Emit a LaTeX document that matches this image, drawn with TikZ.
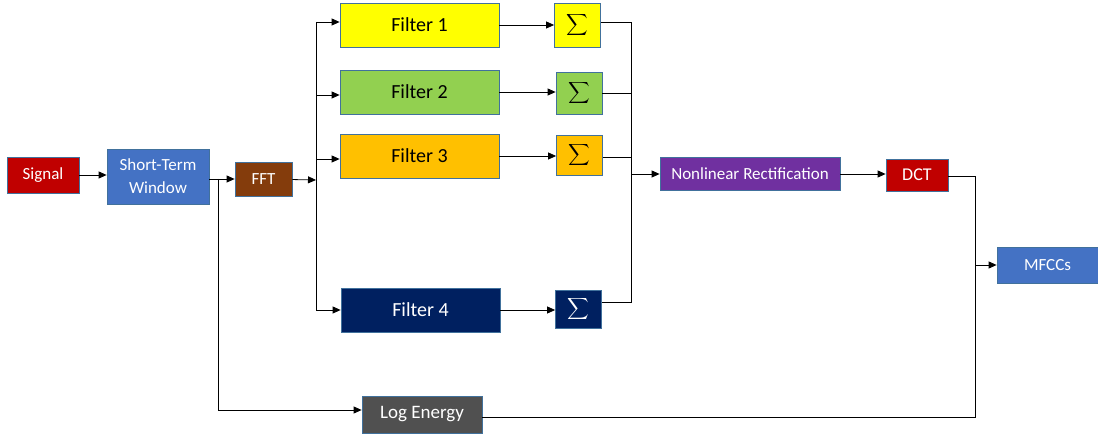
\documentclass[tikz,border=0pt]{standalone}
\usepackage{amsmath}
\usepackage{graphicx}
\usepackage{fontspec}
\setmainfont{Carlito}
\usetikzlibrary{arrows.meta}
\definecolor{bord}{HTML}{41719C}
\definecolor{cred}{HTML}{C00000}
\definecolor{cblue}{HTML}{4472C4}
\definecolor{cbrown}{HTML}{843C0C}
\definecolor{cyel}{HTML}{FFFF00}
\definecolor{cgreen}{HTML}{92D050}
\definecolor{corange}{HTML}{FFC000}
\definecolor{cnavy}{HTML}{002060}
\definecolor{cpurple}{HTML}{7030A0}
\definecolor{cgray}{HTML}{505050}
\newcommand{\bigsum}{\scalebox{1.5}{$\displaystyle\sum$}}
\tikzset{
  blk/.style={draw=bord, line width=0.8pt, inner sep=0pt, align=center, font=\fontsize{17}{20}\selectfont},
  flt/.style={blk, minimum width=159pt, minimum height=44pt, font=\fontsize{20}{24}\selectfont},
  sig/.style={blk, minimum width=46pt, minimum height=42pt, font=\normalsize},
  ar/.style={-{Triangle[length=8pt,width=7pt]}, line width=0.8pt},
  ln/.style={line width=0.8pt}
}
\begin{document}
\begin{tikzpicture}[x=1pt,y=-1pt]
\useasboundingbox (0,0) rectangle (1098,438);
\node[blk, fill=cred, text=white, minimum width=72pt, minimum height=36pt] (signal) at (43,175) {Signal};
\node[blk, fill=cblue, text=white, minimum width=102pt, minimum height=55pt, font=\fontsize{17}{23}\selectfont] (stw) at (158,176.5) {Short-Term\\Window};
\node[blk, fill=cbrown, text=white, minimum width=57pt, minimum height=34pt] (fft) at (263.5,179) {FFT};
\node[flt, fill=cyel] (f1) at (419.5,25) {Filter 1};
\node[flt, fill=cgreen] (f2) at (419.5,92) {Filter 2};
\node[flt, fill=corange] (f3) at (419.5,156) {Filter 3};
\node[flt, fill=cnavy, text=white] (f4) at (420.5,310) {Filter 4};
\node[sig, fill=cyel, minimum height=44pt] (s1) at (577.5,25) {\bigsum};
\node[sig, fill=cgreen] (s2) at (579,93) {\bigsum};
\node[sig, fill=corange, minimum height=40pt] (s3) at (579.5,155) {\bigsum};
\node[sig, fill=cnavy, text=white, minimum height=38pt] (s4) at (578.5,309) {\bigsum};
\node[blk, fill=cpurple, text=white, minimum width=180pt, minimum height=33pt] (nl) at (750,174) {Nonlinear Rectification};
\node[blk, fill=cred, text=white, minimum width=62pt, minimum height=32pt, font=\fontsize{18}{21}\selectfont] (dct) at (917,175) {DCT};
\node[blk, fill=cblue, text=white, minimum width=101pt, minimum height=36pt] (mfcc) at (1047.5,265) {MFCCs};
\node[blk, fill=cgray, text=white, minimum width=120pt, minimum height=37pt, font=\fontsize{19}{22}\selectfont] (loge) at (422,414.5) {Log Energy};
\coordinate (bl) at (316,180);
\coordinate (br) at (631,174);
\coordinate (sp) at (218,179);
\coordinate (dr) at (975,176);
% input chain
\draw[ar] (signal) -- (stw.west |- signal);
\draw[ar] (stw.east |- fft) -- (fft);
\draw[ln] (sp) -- (218,410);
\draw[ar] (218,410) -- (loge.west |- 0,410);
% FFT to bus
\draw[ar] (fft) -- (bl);
\draw[ln] (316,22) -- (316,310);
\draw[ar] (316,22) -- (f1.west |- 0,22);
\draw[ar] (316,95) -- (f2.west |- 0,95);
\draw[ar] (316,159) -- (f3.west |- 0,159);
\draw[ar] (316,310) -- (f4);
% filters to sums
\draw[ar] (f1) -- (s1);
\draw[ar] (f2) -- (s2.west |- f2);
\draw[ar] (f3) -- (s3.west |- f3);
\draw[ar] (f4) -- (s4.west |- f4);
% sums to right bus
\draw[ln] (s1.east |- 0,22) -- (631,22) -- (631,302) -- (s4.east |- 0,302);
\draw[ln] (s2) -- (631,93);
\draw[ln] (s3.east |- 0,157) -- (631,157);
\draw[ar] (br) -- (nl);
\draw[ar] (nl) -- (dct.west |- nl);
% DCT to MFCCs
\draw[ln] (dct.east |- dr) -- (dr) -- (975,417) -- (loge.east |- 0,417);
\draw[ar] (975,265) -- (mfcc);
\end{tikzpicture}
\end{document}
